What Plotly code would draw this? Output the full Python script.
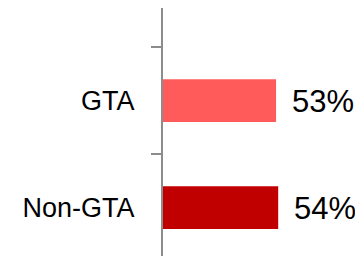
import plotly.graph_objects as go

categories = ["Non-GTA", "GTA"]
values = [54, 53]
labels = ["54%", "53%"]
colors = ["#C00000", "#FF5B5B"]

fig = go.Figure()
fig.add_trace(go.Bar(
    x=values, y=categories, orientation="h",
    marker=dict(color=colors, line=dict(width=0)),
    width=0.4, hoverinfo="skip",
))
for c, v, t in zip(categories, values, labels):
    fig.add_annotation(x=v, y=c, text=t, showarrow=False, xanchor="left",
                       xshift=14, yshift=-1,
                       font=dict(family="Liberation Sans", size=31, color="#000000"))

# page body has an 8px margin, so the figure is sized/offset to compensate
fig.update_layout(
    width=355, height=249,
    margin=dict(l=155, r=8, t=0, b=1),
    plot_bgcolor="white", paper_bgcolor="white",
    showlegend=False,
    xaxis=dict(range=[0, 90], visible=False, showgrid=False, zeroline=False),
    yaxis=dict(
        type="category", range=[-0.453, 1.865],
        showline=True, linecolor="#8C8C8C", linewidth=2,
        ticks="outside", tickson="boundaries", ticklen=10, tickcolor="#8C8C8C", tickwidth=2,
        showgrid=False, zeroline=False,
        ticklabelstandoff=21,
        tickfont=dict(family="Liberation Sans", size=27, color="#000000"),
    ),
)
fig.write_html("out.html")
